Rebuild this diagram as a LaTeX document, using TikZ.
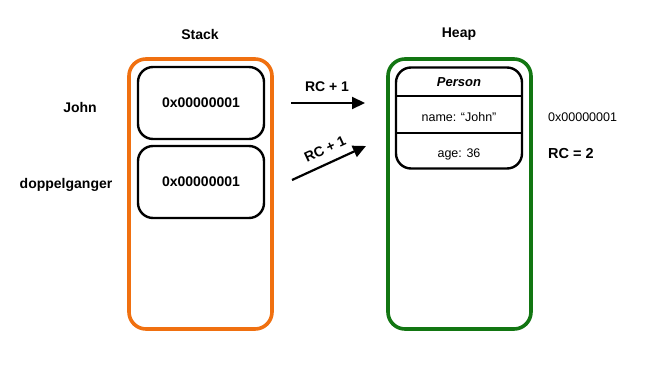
\documentclass[tikz,border=0pt]{standalone}
\usepackage{fontspec}
\setmainfont{Liberation Sans}
\usetikzlibrary{arrows.meta}
\definecolor{stackorange}{RGB}{240,112,16}
\definecolor{heapgreen}{RGB}{18,118,18}
\tikzset{
  rough/.style={line width=3.6pt, line join=round, rounded corners=17pt},
  slot/.style={draw=black, line width=2.4pt, rounded corners=15pt, minimum width=126pt, minimum height=72pt, inner sep=0pt, font=\bfseries\fontsize{14}{16}\selectfont},
  lbl/.style={font=\bfseries\fontsize{14}{16}\selectfont, inner sep=0pt},
  field/.style={font=\fontsize{12.5}{15}\selectfont, inner sep=0pt},
  ptr/.style={line width=2.2pt, -{Triangle[length=13pt,width=12pt]}}
}
\begin{document}
\begin{tikzpicture}[x=1pt,y=-1pt]
\useasboundingbox (0,0) rectangle (657,367);
% containers
\draw[rough, stackorange] (129,59) rectangle (272,329);
\draw[rough, heapgreen] (388,59) rectangle (531,329);
% titles
\node[lbl] (stacktitle) at (200,34) {Stack};
\node[lbl] (heaptitle) at (459,34) {Heap};
% stack slots
\node[slot] (john) at (201,103) {0x00000001};
\node[slot] (dopp) at (201,182) {0x00000001};
\node[lbl] (johnlbl) at (80,107) {John};
\node[lbl] (dopplbl) at (66,185) {doppelganger};
% heap object
\node[draw=black, line width=2.4pt, rounded corners=15pt, minimum width=126pt, minimum height=101pt, inner sep=0pt] (person) at (459,118) {};
\coordinate (d1l) at (396,96); \coordinate (d1r) at (522,96);
\coordinate (d2l) at (396,133); \coordinate (d2r) at (522,133);
\draw[line width=2.4pt] (d1l) -- (d1r);
\draw[line width=2.4pt] (d2l) -- (d2r);
\node[font=\bfseries\itshape\fontsize{13}{15}\selectfont, inner sep=0pt] (ptitle) at (459,82) {Person};
\node[field] (pname) at (459,117) {name: “John”};
\node[field] (page) at (459,154) {age: 36};
% right side labels
\node[field, anchor=west] (addr) at (548,117) {0x00000001};
\node[lbl, font=\bfseries\fontsize{14.5}{16}\selectfont, anchor=west] (rc) at (548,154) {RC = 2};
% arrows
\coordinate (a1s) at (291,103); \coordinate (a1e) at (365,103);
\coordinate (a2s) at (292,180); \coordinate (a2e) at (366,146);
\draw[ptr] (a1s) -- (a1e);
\draw[ptr] (a2s) -- (a2e);
\node[lbl] (rc1) at (327,87) {RC + 1};
\node[lbl, rotate=25] (rc2) at (325,149) {RC + 1};
\end{tikzpicture}
\end{document}
